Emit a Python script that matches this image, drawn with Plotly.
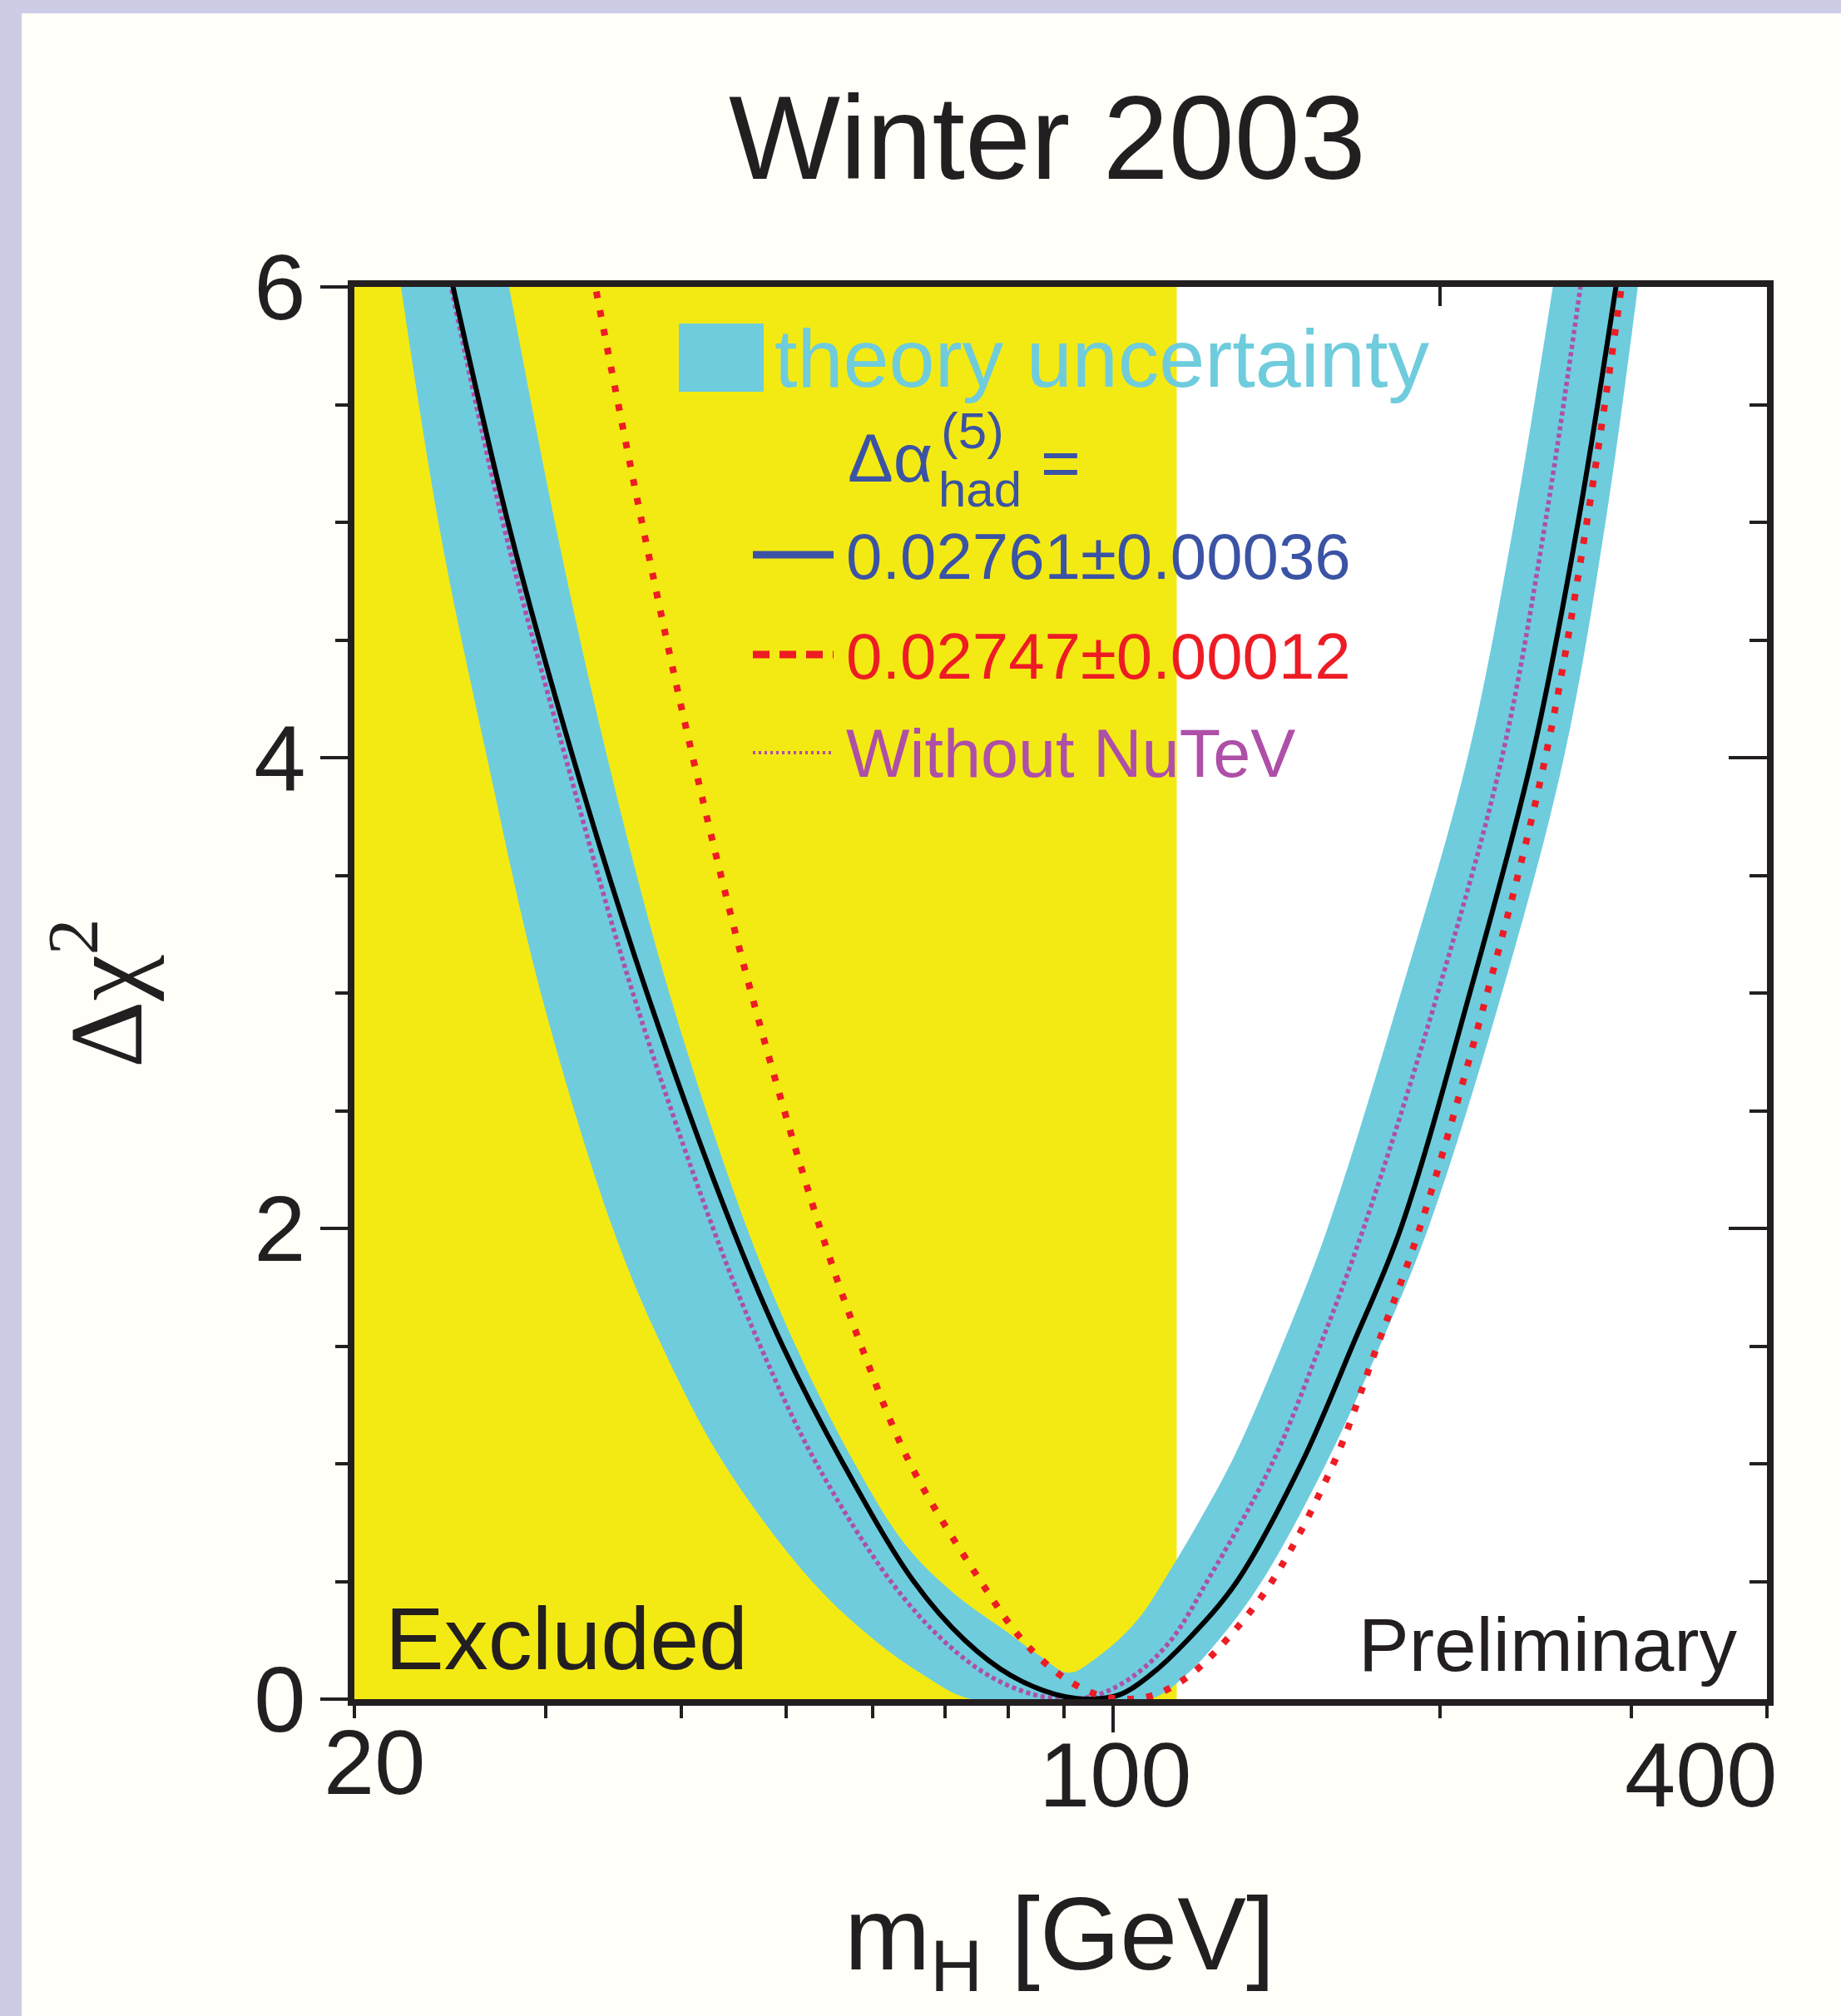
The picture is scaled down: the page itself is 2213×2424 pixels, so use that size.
import math
import plotly.graph_objects as go

# ---------------- data ----------------
MH_RANGE = [20, 400]            # GeV, log axis
DCHI2_RANGE = [0, 6]
LEP_LIMIT = 114.4               # GeV, excluded region (yellow)

x_tick_vals = [20, 100, 400]
x_tick_text = ["20", "100", "400"]
x_minor_vals = [30, 40, 50, 60, 70, 80, 90, 200, 300]
x_top_tick_vals = [100, 200, 300]
y_tick_vals = [0, 2, 4, 6]
y_tick_text = ["0", "2", "4", "6"]
y_minor_vals = [0.5, 1, 1.5, 2.5, 3, 3.5, 4.5, 5, 5.5]

LEVELS = [6.3, 5.0, 4.0, 3.0, 2.0, 1.5, 1.0, 0.5, 0.25, 0.1, 0.02, 0.0,
          0.02, 0.1, 0.25, 0.5, 1.0, 1.5, 2.0, 3.0, 4.0, 5.0, 6.3]

# central fit, Δα_had = 0.02761±0.00036 (black solid)
fit_mh = [23.85, 27.7, 31.8, 37.2, 44.6, 49.6, 56.4, 65.5, 73.0, 80.5, 88.5, 95.0,
          101.5, 108.0, 117.0, 130.0, 149.0, 166.0, 184.0, 213.0, 243.0, 268.0, 297.0]
fit_dchi2 = LEVELS

# Δα_had = 0.02747±0.00012 (red dotted)
red_mh = [32.4, 36.8, 41.0, 46.4, 53.7, 58.6, 65.0, 75.5, 82.5, 89.5, 96.5, 103.0,
          109.5, 117.5, 127.0, 140.0, 159.5, 175.0, 191.5, 221.0, 250.0, 273.0, 300.0]
red_dchi2 = LEVELS

# without NuTeV (magenta dotted)
nonutev_mh = [23.8, 27.4, 31.3, 36.1, 42.8, 47.3, 53.3, 62.4, 69.7, 76.8, 84.4, 91.0,
              97.0, 104.5, 113.0, 122.0, 140.0, 155.0, 170.0, 199.0, 228.0, 250.0, 275.0]
nonutev_dchi2 = LEVELS

# theory uncertainty band: lower envelope (outer edge)
band_lo_mh = [21.6, 23.9, 26.5, 29.7, 34.6, 38.4, 43.8, 52.8, 60.3, 67.0, 74.0,
              108.0, 116.5, 125.0, 137.0, 157.0, 176.0, 195.0, 228.0, 260.0, 284.0, 310.0]
band_lo_dchi2 = [6.3, 5.0, 4.0, 3.0, 2.0, 1.5, 1.0, 0.5, 0.25, 0.1, 0.0,
                 0.0, 0.1, 0.25, 0.5, 1.0, 1.5, 2.0, 3.0, 4.0, 5.0, 6.3]
# theory uncertainty band: upper envelope (inner edge)
band_hi_mh = [27.0, 30.6, 34.2, 39.0, 46.0, 51.0, 57.8, 64.5, 71.3, 79.0, 85.8, 91.0,
              96.8, 105.0, 113.5, 121.5, 129.4, 143.0, 157.5, 184.0, 212.0, 234.0, 260.0]
band_hi_dchi2 = [6.3, 5.0, 4.0, 3.0, 2.0, 1.5, 1.0, 0.65, 0.45, 0.3, 0.18, 0.112,
                 0.18, 0.33, 0.567, 0.80, 1.037, 1.5, 2.0, 3.0, 4.0, 5.0, 6.3]

# ---------------- styling ----------------
W, H = 2213, 2424
PX_L, PX_R, PX_T, PX_B = 426, 2124, 345, 2043

IVORY = "#FFFEF8"
LAVENDER = "#CDCCE6"
YELLOW = "#F4EA13"
CYAN = "#6ECCDD"
INK = "#231F20"
BLUE = "#3B53A4"
RED = "#ED1C24"
MAGENTA = "#AE4FA8"
SANS = "Liberation Sans, Arial, Helvetica, sans-serif"
SERIF = "Liberation Serif, Times New Roman, serif"


def px_x(p):
    return (p - PX_L) / (PX_R - PX_L)


def px_y(p):
    return (PX_B - p) / (PX_B - PX_T)


fig = go.Figure()

# excluded region (yellow)
fig.add_trace(go.Scatter(
    x=[10, LEP_LIMIT, LEP_LIMIT, 10], y=[-1, -1, 7, 7],
    mode="lines", fill="toself", fillcolor=YELLOW, line=dict(width=0),
    hoverinfo="skip", showlegend=False))

# theory band
fig.add_trace(go.Scatter(
    x=band_lo_mh, y=band_lo_dchi2, mode="lines",
    line=dict(width=0, shape="spline", smoothing=1.0),
    hoverinfo="skip", showlegend=False))
fig.add_trace(go.Scatter(
    x=band_hi_mh, y=band_hi_dchi2, mode="lines", fill="tonexty", fillcolor=CYAN,
    line=dict(width=0, shape="spline", smoothing=1.0),
    hoverinfo="skip", showlegend=False))

# curves
fig.add_trace(go.Scatter(
    x=nonutev_mh, y=nonutev_dchi2, mode="lines",
    line=dict(color=MAGENTA, width=5.5, dash="5px,4px", shape="spline", smoothing=1.0),
    showlegend=False))
fig.add_trace(go.Scatter(
    x=fit_mh, y=fit_dchi2, mode="lines",
    line=dict(color="black", width=6, shape="spline", smoothing=1.0),
    showlegend=False))
fig.add_trace(go.Scatter(
    x=red_mh, y=red_dchi2, mode="lines",
    line=dict(color=RED, width=8, dash="8px,15px", shape="spline", smoothing=1.0),
    showlegend=False))

# dummy traces so the overlay axes get their own subplots
fig.add_trace(go.Scatter(x=[], y=[], xaxis="x2", yaxis="y2", showlegend=False))
fig.add_trace(go.Scatter(x=[], y=[], xaxis="x3", yaxis="y", showlegend=False))

xr = [math.log10(MH_RANGE[0]), math.log10(MH_RANGE[1])]

axis_common = dict(showgrid=False, zeroline=False, showline=True, linewidth=8,
                   linecolor=INK, tickcolor=INK, tickwidth=4)

fig.update_layout(
    width=W, height=H,
    margin=dict(l=PX_L, r=W - PX_R, t=PX_T, b=H - PX_B, pad=0),
    paper_bgcolor=IVORY, plot_bgcolor="white",
    font=dict(family=SANS, color=INK),
    showlegend=False,
    xaxis=dict(type="log", range=xr, ticks="outside", ticklen=15,
               tickvals=x_tick_vals, showticklabels=False,
               minor=dict(tickvals=x_minor_vals, ticks="outside", ticklen=15,
                          tickwidth=4, tickcolor=INK),
               **axis_common),
    xaxis3=dict(type="log", range=xr, overlaying="x", anchor="y", side="bottom",
                ticks="outside", ticklen=32, tickvals=[100], showticklabels=False,
                **axis_common),
    xaxis2=dict(type="log", range=xr, overlaying="x", anchor="y2", side="top",
                ticks="inside", ticklen=23, tickvals=x_top_tick_vals,
                showticklabels=False, layer="below traces", **axis_common),
    yaxis=dict(range=DCHI2_RANGE, ticks="outside", ticklen=33,
               tickvals=y_tick_vals, ticktext=y_tick_text,
               tickfont=dict(size=112, family=SANS, color=INK),
               ticklabelstandoff=-5,
               minor=dict(tickvals=y_minor_vals, ticks="outside", ticklen=15,
                          tickwidth=4, tickcolor=INK),
               **axis_common),
    yaxis2=dict(range=DCHI2_RANGE, overlaying="y", anchor="x2", side="right",
                ticks="inside", ticklen=46, tickvals=y_tick_vals,
                showticklabels=False, layer="below traces",
                minor=dict(tickvals=y_minor_vals, ticks="inside", ticklen=21,
                           tickwidth=4, tickcolor=INK),
                **axis_common),
)

shapes = []
# lavender frame strips (left and top)
shapes.append(dict(type="rect", xref="paper", yref="paper",
                   x0=px_x(-5), x1=px_x(26), y0=px_y(H + 5), y1=px_y(-5),
                   fillcolor=LAVENDER, line=dict(width=0), layer="below"))
shapes.append(dict(type="rect", xref="paper", yref="paper",
                   x0=px_x(-5), x1=px_x(W + 5), y0=px_y(16), y1=px_y(-5),
                   fillcolor=LAVENDER, line=dict(width=0), layer="below"))
# legend swatch and line samples
shapes.append(dict(type="rect", xref="paper", yref="paper",
                   x0=px_x(816), x1=px_x(918), y0=px_y(471), y1=px_y(389),
                   fillcolor=CYAN, line=dict(width=0), layer="above"))
shapes.append(dict(type="line", xref="paper", yref="paper",
                   x0=px_x(905), x1=px_x(1002), y0=px_y(667), y1=px_y(667),
                   line=dict(color=BLUE, width=9), layer="above"))
shapes.append(dict(type="line", xref="paper", yref="paper",
                   x0=px_x(905), x1=px_x(1002), y0=px_y(787), y1=px_y(787),
                   line=dict(color=RED, width=9, dash="20px,12px"), layer="above"))
shapes.append(dict(type="line", xref="paper", yref="paper",
                   x0=px_x(905), x1=px_x(1002), y0=px_y(905), y1=px_y(905),
                   line=dict(color=MAGENTA, width=4, dash="3px,4px"), layer="above"))
fig.update_layout(shapes=shapes)


def note(text, x, y, size, color=INK, xanchor="left", family=SANS, angle=0):
    fig.add_annotation(text=text, x=px_x(x), y=px_y(y), xref="paper", yref="paper",
                       xanchor=xanchor, yanchor="middle", showarrow=False,
                       textangle=angle, borderpad=0,
                       font=dict(size=size, color=color, family=family))


# x tick labels (ends pulled inwards as in the original)
x_label_shift = {20: 24, 100: 3, 400: -79}
x_label_y = {20: 2118, 100: 2133, 400: 2133}
for v, t in zip(x_tick_vals, x_tick_text):
    fig.add_annotation(text=t, x=math.log10(v), xref="x", y=px_y(x_label_y[v]),
                       yref="paper", xshift=x_label_shift[v], xanchor="center",
                       yanchor="middle", showarrow=False, borderpad=0,
                       font=dict(size=110, color=INK, family=SANS))

note("Winter 2003", 1259, 166, 142, xanchor="center")
note("m<sub>H</sub> [GeV]", 1273, 2334, 124, xanchor="center")
note("Δχ<sup>2</sup>", 118, 1194, 125, xanchor="center", family=SERIF, angle=-90)

note("theory uncertainty", 930, 430, 99, color=CYAN)
note("Δα", 1018, 550, 82, color=BLUE)
note("(5)", 1130, 518, 62, color=BLUE)
note("had", 1127, 588, 60, color=BLUE)
note("=", 1250, 556, 82, color=BLUE)
note("0.02761±0.00036", 1016, 669, 78, color=BLUE)
note("0.02747±0.00012", 1016, 789, 78, color=RED)
note("Without NuTeV", 1016, 906, 81, color=MAGENTA)

note("Excluded", 462, 1970, 106)
note("Preliminary", 2090, 1977, 91, xanchor="right")

fig.write_html("out.html", config={"displayModeBar": False},
               post_script="document.body.style.margin='0px';")
